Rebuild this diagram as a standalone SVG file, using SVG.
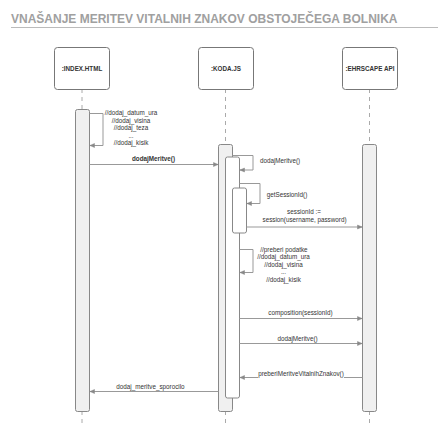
<svg xmlns="http://www.w3.org/2000/svg" width="439" height="437" viewBox="0 0 439 437">
<defs>
<style>
text{font-family:"Liberation Sans",Arial,sans-serif;fill:#333;font-size:6.3px}
.title{font-size:12px;font-weight:bold;fill:#a0a0a0}
.nlabel{font-weight:bold;text-anchor:middle}
.c{text-anchor:middle}
.b{font-weight:bold}
.node{fill:#fff;stroke:#777;stroke-width:1}
.life{stroke:#aaa;stroke-width:1;stroke-dasharray:4,4;fill:none}
.act{fill:#f0f0f0;stroke:#888;stroke-width:1}
.act2{fill:#fff;stroke:#888;stroke-width:1}
.msg{stroke:#999;stroke-width:1;fill:none}
</style>
<marker id="ah" markerWidth="6" markerHeight="6" refX="5" refY="3" orient="auto" markerUnits="userSpaceOnUse">
<path d="M0.5,1 L5,3 L0.5,5 Z" fill="#888" stroke="#888" stroke-width="0.5"/>
</marker>
</defs>
<rect width="439" height="437" fill="#fff"/>
<text class="title" x="11" y="22.5">VNAŠANJE MERITEV VITALNIH ZNAKOV OBSTOJEČEGA BOLNIKA</text>
<line x1="11" y1="27.5" x2="438" y2="27.5" stroke="#bbb" stroke-width="1"/>

<g id="lifelines">
<line class="life" x1="82" y1="89" x2="82" y2="109"/>
<line class="life" x1="82" y1="411" x2="82" y2="427"/>
<line class="life" x1="225.5" y1="89" x2="225.5" y2="144"/>
<line class="life" x1="225.5" y1="411" x2="225.5" y2="427"/>
<line class="life" x1="369.5" y1="89" x2="369.5" y2="144"/>
<line class="life" x1="369.5" y1="411" x2="369.5" y2="427"/>
</g>

<g id="index">
<rect class="node" x="54.5" y="47.5" width="55" height="42" rx="3"/>
<text class="nlabel" x="82" y="70.5">:INDEX.HTML</text>
<rect class="act" x="75.5" y="109.5" width="14" height="302" rx="2"/>
</g>
<g id="koda">
<rect class="node" x="198.5" y="47.5" width="55" height="42" rx="3"/>
<text class="nlabel" x="226" y="70.5">:KODA.JS</text>
<rect class="act" x="218.5" y="144.5" width="14" height="267" rx="2"/>
<rect class="act2" x="225.5" y="157" width="14" height="241" rx="2"/>
<rect class="act2" x="232.5" y="188" width="14" height="45" rx="2"/>
</g>
<g id="ehrscape">
<rect class="node" x="342.5" y="47.5" width="55" height="42" rx="3"/>
<text class="nlabel" x="370" y="70.5">:EHRSCAPE API</text>
<rect class="act" x="362.5" y="144.5" width="14" height="267" rx="2"/>
</g>

<g id="connectors">
<path class="msg" d="M89.5,113.5 H103 V145.5 H90" marker-end="url(#ah)"/>
<line class="msg" x1="89.5" y1="164.5" x2="218" y2="164.5" marker-end="url(#ah)"/>
<path class="msg" d="M232.5,155.5 H253 V170 H240" marker-end="url(#ah)"/>
<path class="msg" d="M239.5,183.5 H260 V203.5 H247" marker-end="url(#ah)"/>
<line class="msg" x1="246.5" y1="227" x2="362" y2="227" marker-end="url(#ah)"/>
<path class="msg" d="M239.5,249.5 H253 V272.5 H240" marker-end="url(#ah)"/>
<line class="msg" x1="239.5" y1="318.5" x2="362" y2="318.5" marker-end="url(#ah)"/>
<line class="msg" x1="239.5" y1="343.5" x2="362" y2="343.5" marker-end="url(#ah)"/>
<line class="msg" x1="362.5" y1="377.5" x2="240" y2="377.5" marker-end="url(#ah)"/>
<line class="msg" x1="218.5" y1="391.5" x2="90" y2="391.5" marker-end="url(#ah)"/>
</g>

<g id="labels">
<text class="c" x="131" y="115">//dodaj_datum_ura</text>
<text class="c" x="131" y="122.5">//dodaj_visina</text>
<text class="c" x="131" y="130">//dodaj_teza</text>
<text class="c" x="131" y="137.5">...</text>
<text class="c" x="131" y="145">//dodaj_kisik</text>
<text class="c b" x="153.5" y="160.5">dodajMeritve()</text>
<text class="c" x="280" y="163">dodajMeritve()</text>
<text class="c" x="287" y="196.5">getSessionId()</text>
<text class="c" x="304" y="214">sessionId :=</text>
<text class="c" x="304.5" y="221.5">session(username, password)</text>
<text class="c" x="284" y="251.5">//preberi podatke</text>
<text class="c" x="283.5" y="259">//dodaj_datum_ura</text>
<text class="c" x="283.5" y="266.5">//dodaj_visina</text>
<text class="c" x="283.5" y="274">...</text>
<text class="c" x="283.5" y="281.5">//dodaj_kisik</text>
<text class="c" x="300.5" y="314.5">composition(sessionId)</text>
<text class="c" x="297.5" y="341">dodajMeritve()</text>
<rect x="258" y="369" width="86" height="9" fill="#fff"/>
<text class="c" x="301" y="375.5">preberiMeritveVitalnihZnakov()</text>
<text class="c" x="150.5" y="389">dodaj_meritve_sporocilo</text>
</g>
</svg>
